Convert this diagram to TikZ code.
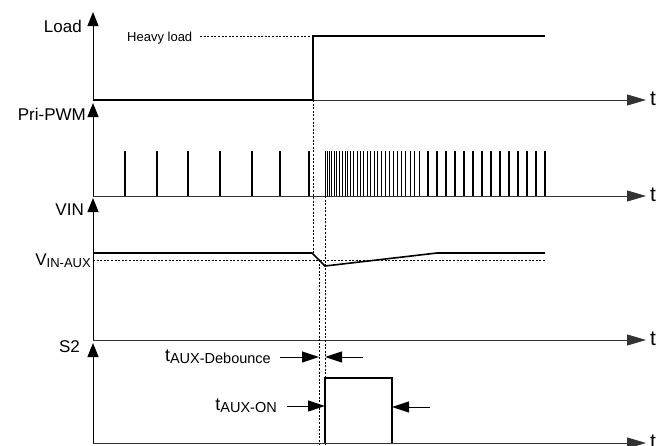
\documentclass[tikz,border=0pt]{standalone}
\usepackage{fontspec}
\setmainfont{Liberation Sans}
\usetikzlibrary{arrows.meta, positioning}

\begin{document}
\begin{tikzpicture}[
    x=1pt, y=-1pt,
    lbl/.style={font=\fontsize{17}{20}\selectfont, inner sep=0pt, anchor=base east},
    tlbl/.style={font=\fontsize{21}{24}\selectfont, inner sep=0pt, anchor=base west},
    yaxis/.style={-{Triangle[length=14pt, width=11pt]}, line width=1pt},
    taxis/.style={-{Triangle[length=19pt, width=11pt]}, line width=0.9pt, black!80},
    sig/.style={line width=1.6pt},
    pulse/.style={line width=1.2pt},
    guide/.style={dash pattern=on 2pt off 1.6pt, line width=0.9pt},
    dim/.style={-{Triangle[length=17pt, width=11pt]}, line width=1pt}
]
\clip (0,0) rectangle (667,445);

% axes origins and ends
\coordinate (o1) at (93,100);  \coordinate (y1) at (93,12);   \coordinate (e1) at (646,100);
\coordinate (o2) at (93,196);  \coordinate (y2) at (93,103);  \coordinate (e2) at (646,196);
\coordinate (o3) at (93,340);  \coordinate (y3) at (93,198);  \coordinate (e3) at (646,340);
\coordinate (o4) at (93,443);  \coordinate (y4) at (93,343);  \coordinate (e4) at (646,443);

\foreach \a/\b in {o1/y1, o2/y2, o3/y3, o4/y4}
  \draw[yaxis] (\a) -- (\b);
\foreach \a/\b in {o1/e1, o2/e2, o3/e3, o4/e4}
  \draw[taxis] (\a) -- (\b);
\foreach \b/\n/\yy in {e1/t1/105, e2/t2/201, e3/t3/345, e4/t4/448}
  \node[tlbl] (\n) at (650,\yy) {t};

\node[lbl] (load) at (82,32)  {Load};
\node[lbl] (pwm)  at (86,120) {Pri-PWM};
\node[lbl] (vin)  at (84,215) {VIN};
\node[lbl] (s2)   at (80,352) {S2};
\node[lbl] (vaux) at (91,265) {V{\fontsize{13}{15}\selectfont\raisebox{-2pt}{IN-AUX}}};

% load step
\coordinate (step) at (313,100);
\coordinate (high) at (313,36);
\coordinate (hend) at (545,36);
\node[font=\fontsize{13}{15}\selectfont, inner sep=0pt, anchor=base west] (heavy) at (127,41) {Heavy load};
\coordinate (hl) at (200,36);
\draw[guide] (hl) -- (high);
\draw[sig] (o1) -- (step) -- (high) -- (hend);

% primary PWM pulses
\foreach \x in {125,157,188,220,252,280,309}
  \draw[pulse] (\x,196) -- (\x,151);
\foreach \i in {0,...,28} {
  \pgfmathsetmacro\x{325+2.2*\i+0.0429*\i*(\i-1)}
  \draw[line width=0.9pt] (\x,196) -- (\x,151);
}
\foreach \i in {1,...,14}
  \draw[pulse] (419+9*\i,196) -- (419+9*\i,151);

% input voltage
\coordinate (v0) at (93,253);
\coordinate (v1) at (312,253);
\coordinate (v2) at (325,266);
\coordinate (v3) at (437,253);
\coordinate (v4) at (545,253);
\draw[sig] (v0) -- (v1) -- (v2) -- (v3) -- (v4);
\coordinate (a0) at (93,260);
\coordinate (a1) at (545,260);
\draw[guide] (a0) -- (a1);

% timing guides
\coordinate (cross) at (319,260);
\coordinate (crossb) at (319,445);
\coordinate (on) at (325,196);
\coordinate (onb) at (325,445);
\draw[guide] (step) -- (313,253);
\draw[guide] (cross) -- (crossb);
\draw[guide] (on) -- (onb);

% S2 pulse
\coordinate (s2a) at (325,443);
\coordinate (s2b) at (325,378);
\coordinate (s2c) at (392,378);
\coordinate (s2d) at (392,443);
\draw[sig] (s2a) -- (s2b) -- (s2c) -- (s2d);

% timing marks
\node[lbl, font=\fontsize{18}{20}\selectfont] (deb) at (271,361) {t{\fontsize{14.5}{16}\selectfont\raisebox{-2pt}{AUX-Debounce}}};
\node[lbl, font=\fontsize{18}{20}\selectfont] (aon) at (277,410) {t{\fontsize{14.5}{16}\selectfont\raisebox{-2pt}{AUX-ON}}};
\coordinate (d1) at (280,357); \coordinate (d1t) at (319,357);
\coordinate (d2) at (363,357); \coordinate (d2t) at (325,357);
\coordinate (n1) at (287,406); \coordinate (n1t) at (325,406);
\coordinate (n2) at (430,407); \coordinate (n2t) at (392,407);
\foreach \a/\b in {d1/d1t, d2/d2t, n1/n1t, n2/n2t}
  \draw[dim] (\a) -- (\b);
\end{tikzpicture}
\end{document}
